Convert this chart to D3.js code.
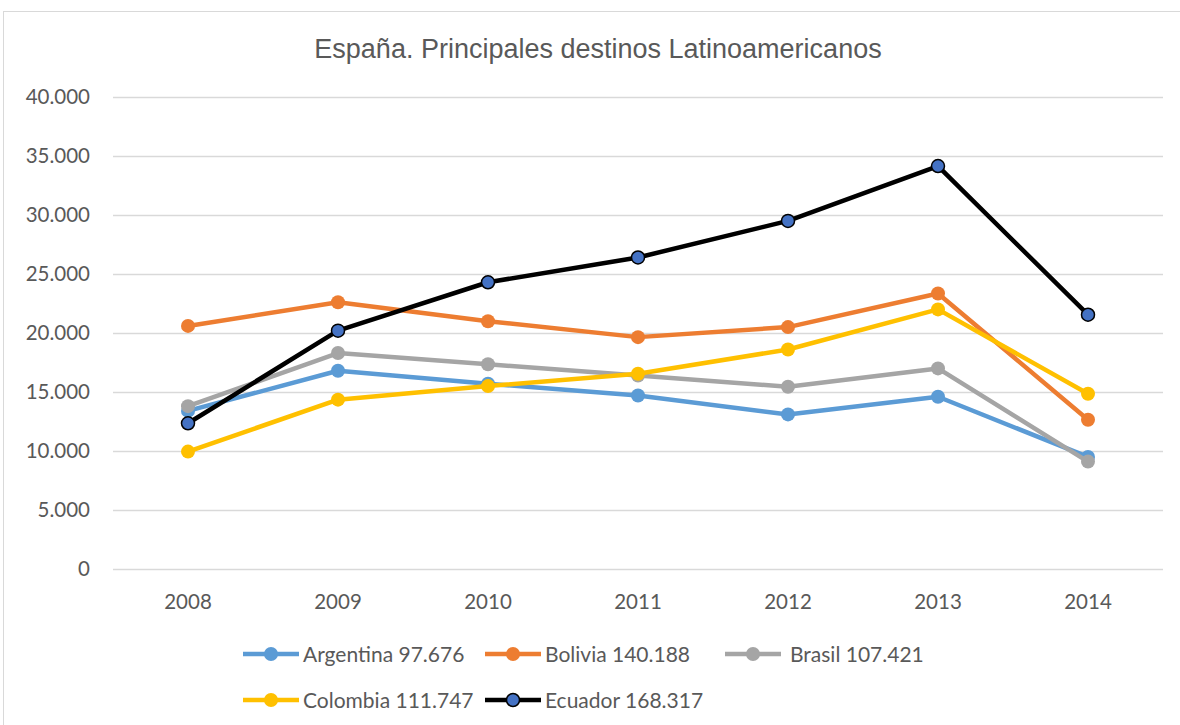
<!DOCTYPE html>
<html>
<head>
<meta charset="utf-8">
<script src="https://cdn.jsdelivr.net/npm/d3@7"></script>
<style>
  body { margin: 0; background: #fff; }
  text { font-family: Lato, "Open Sans", sans-serif; }
</style>
</head>
<body>
<div id="chart"></div>
<script>
// data
const years = ["2008", "2009", "2010", "2011", "2012", "2013", "2014"];
const seriesNames = ["Argentina 97.676", "Bolivia 140.188", "Brasil 107.421", "Colombia 111.747", "Ecuador 168.317"];
const argentina = [13400, 16800, 15700, 14700, 13100, 14600, 9500];
const bolivia = [20600, 22600, 21000, 19650, 20500, 23350, 12650];
const brasil = [13800, 18300, 17350, 16400, 15450, 17000, 9100];
const colombia = [9950, 14350, 15500, 16550, 18600, 22000, 14850];
const ecuador = [12350, 20200, 24300, 26400, 29500, 34150, 21550];
const yTicks = [0, 5000, 10000, 15000, 20000, 25000, 30000, 35000, 40000];

const colors = ["#5B9BD5", "#ED7D31", "#A5A5A5", "#FFC000", "#000000"];
const allValues = [argentina, bolivia, brasil, colombia, ecuador];

const W = 1180, H = 725;
const margin = { top: 97, right: 17, bottom: 156, left: 113 },
  width = W - margin.left - margin.right,
  height = H - margin.top - margin.bottom;

const svg = d3.select("#chart").append("svg")
  .attr("width", W).attr("height", H);

// outer chart frame
svg.append("rect")
  .attr("x", 3.5).attr("y", 11.5)
  .attr("width", W + 10).attr("height", H + 10)
  .attr("fill", "none").attr("stroke", "#d9d9d9").attr("stroke-width", 1);

svg.append("text")
  .attr("x", 598).attr("y", 58)
  .attr("text-anchor", "middle")
  .style("font-family", "'Liberation Sans', Arial, sans-serif")
  .style("font-size", "27px")
  .attr("fill", "#595959")
  .text("España. Principales destinos Latinoamericanos");

const g = svg.append("g").attr("transform", `translate(${margin.left},${margin.top})`);

const x = d3.scaleBand().domain(years).range([0, width]);
const y = d3.scaleLinear().domain([0, 40000]).range([height, 0]);

const loc = d3.formatLocale({ decimal: ",", thousands: ".", grouping: [3], currency: ["", "€"] });
const fmt = loc.format(",");

// gridlines
g.append("g")
  .selectAll("line")
  .data(yTicks)
  .join("line")
  .attr("x1", 0).attr("x2", width)
  .attr("y1", d => Math.round(y(d)) + 0.5).attr("y2", d => Math.round(y(d)) + 0.5)
  .attr("stroke", "#d9d9d9").attr("stroke-width", 1.5);

// y axis labels
const yAxis = g.append("g")
  .call(d3.axisLeft(y).tickValues(yTicks).tickFormat(fmt).tickSize(0).tickPadding(23));
yAxis.select(".domain").remove();
yAxis.selectAll("text").style("font-size", "20.5px").attr("fill", "#595959")
  .style("font-family", "Lato, 'Open Sans', sans-serif");

// x axis labels
const xAxis = g.append("g")
  .attr("transform", `translate(0,${height})`)
  .call(d3.axisBottom(x).tickSize(0).tickPadding(25));
xAxis.select(".domain").remove();
xAxis.selectAll("text").style("font-size", "20.5px").attr("fill", "#595959")
  .style("font-family", "Lato, 'Open Sans', sans-serif");

const line = d3.line()
  .x((d, i) => x(years[i]) + x.bandwidth() / 2)
  .y(d => y(d));

allValues.forEach(function (vals, k) {
  g.append("path")
    .datum(vals)
    .attr("fill", "none")
    .attr("stroke", colors[k])
    .attr("stroke-width", 4.5)
    .attr("stroke-linejoin", "round")
    .attr("d", line);

  g.append("g")
    .selectAll("circle")
    .data(vals)
    .join("circle")
    .attr("cx", (d, i) => x(years[i]) + x.bandwidth() / 2)
    .attr("cy", d => y(d))
    .attr("r", k === 4 ? 6.5 : 7)
    .attr("fill", k === 4 ? "#4472C4" : colors[k])
    .attr("stroke", k === 4 ? "#000" : "none")
    .attr("stroke-width", 1.5);
});

// legend
const legendPos = [[243, 654], [485, 654], [725, 654], [243, 700], [485, 700]];
const textX = [60, 60, 65, 60, 60];
seriesNames.forEach(function (name, k) {
  const lg = svg.append("g").attr("transform", `translate(${legendPos[k][0]},${legendPos[k][1]})`);
  lg.append("line")
    .attr("x1", 0).attr("x2", 56).attr("y1", 0).attr("y2", 0)
    .attr("stroke", colors[k]).attr("stroke-width", 4.5);
  lg.append("circle")
    .attr("cx", 28).attr("cy", 0)
    .attr("r", k === 4 ? 6.5 : 7)
    .attr("fill", k === 4 ? "#4472C4" : colors[k])
    .attr("stroke", k === 4 ? "#000" : "none")
    .attr("stroke-width", 1.5);
  lg.append("text")
    .attr("x", textX[k]).attr("y", 7.5)
    .style("font-size", "21px")
    .attr("fill", "#595959")
    .text(name);
});
</script>
</body>
</html>
